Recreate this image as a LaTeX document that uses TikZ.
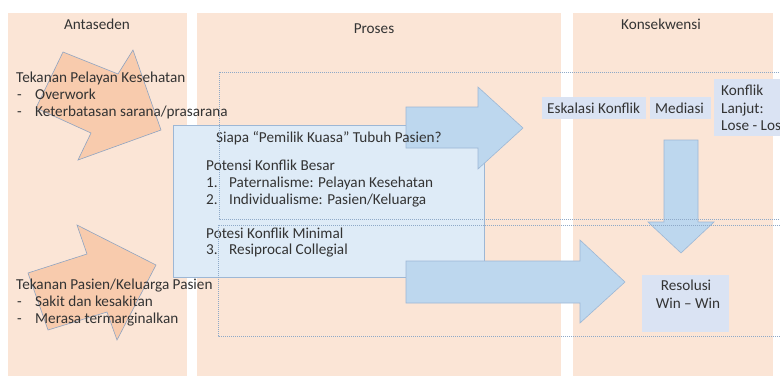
\documentclass[tikz,border=0pt]{standalone}
\usepackage{fontspec}
\setmainfont{Carlito}
\definecolor{peach}{HTML}{FBE5D6}
\definecolor{peachA}{HTML}{F8CBAD}
\definecolor{arredge}{HTML}{8EA4C2}
\definecolor{boxfill}{HTML}{DEEBF7}
\definecolor{boxedge}{HTML}{9DB7D5}
\definecolor{arrfill}{HTML}{BDD7EE}
\definecolor{smallbox}{HTML}{DAE3F3}
\definecolor{txt}{HTML}{333333}
\definecolor{dotc}{HTML}{8EA9C8}
\begin{document}
\begin{tikzpicture}[x=1pt,y=-1pt,
  every node/.style={text=txt, inner sep=0pt, font=\fontsize{15.2}{17.5}\selectfont},
  col/.style={fill=peach},
  peacharrow/.style={fill=peachA, draw=arredge, line width=0.6pt, line join=miter},
  bluearrow/.style={fill=arrfill, draw=boxedge, line width=0.6pt},
  smallbx/.style={fill=smallbox},
  dotline/.style={draw=dotc, line width=0.5pt, dash pattern=on 1pt off 1pt},
  lbl/.style={anchor=base west},
  ttl/.style={anchor=base}]
\useasboundingbox (0,0) rectangle (780,376);
\clip (0,0) rectangle (780,376);
% columns
\fill[col] (8,13) rectangle (187,376);
\fill[col] (197,13) rectangle (561,376);
\fill[col] (573,13) rectangle (773,376);
\node[ttl] (tA) at (97,29) {Antaseden};
\node[ttl] (tP) at (374,33) {Proses};
\node[ttl] (tK) at (661,29) {Konsekwensi};
% peach arrows
\draw[peacharrow] (63,52) -- (118,74) -- (133,50) -- (161,130) -- (78,160) -- (91,133) -- (36,108) -- cycle;
\draw[peacharrow] (28,273) -- (87,254) -- (77,225) -- (156,265) -- (117,340) -- (107,312) -- (48,330) -- cycle;
% left texts
\node[lbl] (a1) at (16,82) {Tekanan Pelayan Kesehatan};
\node[lbl] (a2) at (17,99) {\makebox[18pt][l]{-}Overwork};
\node[lbl] (a3) at (17,116) {\makebox[18pt][l]{-}Keterbatasan sarana/prasarana};
\node[lbl] (b1) at (16,289) {Tekanan Pasien/Keluarga Pasien};
\node[lbl] (b2) at (17,306) {\makebox[18pt][l]{-}Sakit dan kesakitan};
\node[lbl] (b3) at (17,323) {\makebox[18pt][l]{-}Merasa termarginalkan};
% central box
\draw[fill=boxfill, draw=boxedge, line width=0.6pt] (173,125) rectangle (484,277);
% blue arrows
\draw[bluearrow] (406,107) -- (478,107) -- (478,87) -- (523,128) -- (478,169) -- (478,148) -- (406,148) -- cycle;
\draw[bluearrow] (406,261) -- (580,261) -- (580,240) -- (625,282) -- (580,323) -- (580,303) -- (406,303) -- cycle;
\draw[bluearrow] (664,140) -- (698,140) -- (698,222) -- (714,222) -- (681,253) -- (648,222) -- (664,222) -- cycle;
% central texts
\node[lbl] (p0) at (216,142) {Siapa “Pemilik Kuasa” Tubuh Pasien?};
\node[lbl] (p1) at (206,170) {Potensi Konflik Besar};
\node[lbl] (p2) at (206,187) {\makebox[23pt][l]{1.}Paternalisme: Pelayan Kesehatan};
\node[lbl] (p3) at (206,204) {\makebox[23pt][l]{2.}Individualisme: Pasien/Keluarga};
\node[lbl] (p4) at (206,238) {Potesi Konflik Minimal};
\node[lbl] (p5) at (206,254) {\makebox[23pt][l]{3.}Resiprocal Collegial};
% small boxes
\fill[smallbx] (542,97) rectangle (646,119);
\node[lbl] (esk) at (547,113) {Eskalasi Konflik};
\fill[smallbx] (650,97) rectangle (711,119);
\node[lbl] (med) at (655,113) {Mediasi};
\fill[smallbx] (714,79) rectangle (800,136);
\node[lbl] (k1) at (721,95) {Konflik};
\node[lbl] (k2) at (721,113) {Lanjut:};
\node[lbl] (k3) at (721,130) {Lose - Los};
\fill[smallbx] (642,275) rectangle (729,332);
\node[ttl] (r1) at (686,290) {Resolusi};
\node[ttl] (r2) at (688,308) {Win – Win};
% dotted boxes
\draw[dotline] (219,72) rectangle (820,219);
\draw[dotline] (218,225) rectangle (820,336);
\end{tikzpicture}
\end{document}
